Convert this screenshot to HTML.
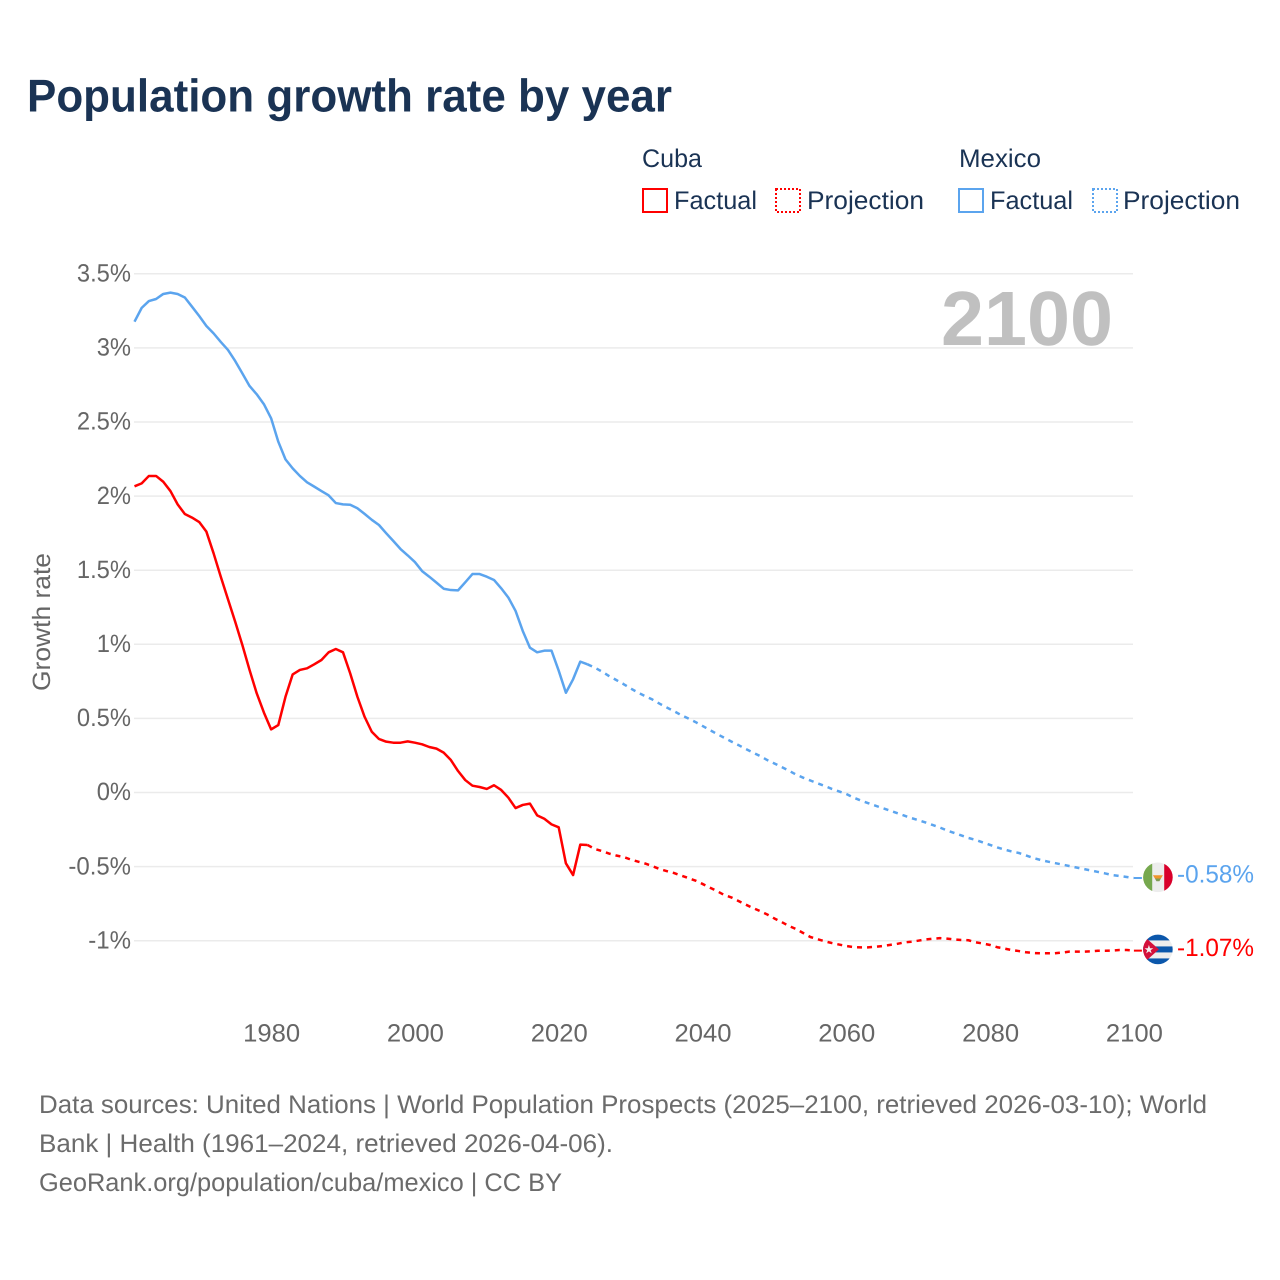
<!DOCTYPE html>
<html lang="en">
<head>
<meta charset="utf-8">
<title>Population growth rate by year</title>
<style>
html,body{margin:0;padding:0;background:#fff;}
svg{display:block;}
text{font-family:"Liberation Sans",sans-serif;text-rendering:geometricPrecision;}
</style>
</head>
<body>
<svg id="chart" xmlns="http://www.w3.org/2000/svg" width="1280" height="1280" viewBox="0 0 1280 1280">
  <rect x="0" y="0" width="1280" height="1280" fill="#fff"/>
  <text x="27" y="111.5" font-size="46" font-weight="700" fill="#1a3354" textLength="645" lengthAdjust="spacingAndGlyphs">Population growth rate by year</text>

  <g font-size="25.5" fill="#1a3354">
    <text x="642" y="167" textLength="60" lengthAdjust="spacingAndGlyphs">Cuba</text>
    <rect x="643" y="189" width="24" height="23" fill="none" stroke="#ff0000" stroke-width="2"/>
    <text x="674" y="209" textLength="83" lengthAdjust="spacingAndGlyphs">Factual</text>
    <rect x="776" y="189" width="24" height="23" fill="none" stroke="#ff0000" stroke-width="2" stroke-dasharray="2 2"/>
    <text x="807" y="209" textLength="117" lengthAdjust="spacingAndGlyphs">Projection</text>
    <text x="959" y="167" textLength="82" lengthAdjust="spacingAndGlyphs">Mexico</text>
    <rect x="959" y="189" width="24" height="23" fill="none" stroke="#5ba4ee" stroke-width="2"/>
    <text x="990" y="209" textLength="83" lengthAdjust="spacingAndGlyphs">Factual</text>
    <rect x="1093" y="189" width="24" height="23" fill="none" stroke="#5ba4ee" stroke-width="2" stroke-dasharray="2 2"/>
    <text x="1123" y="209" textLength="117" lengthAdjust="spacingAndGlyphs">Projection</text>
  </g>

  <g id="grid"></g>
  <g id="yticks"></g>
  <g id="xticks"></g>
  <text transform="translate(50,622) rotate(-90)" text-anchor="middle" font-size="25" fill="#666" textLength="138" lengthAdjust="spacingAndGlyphs">Growth rate</text>
  <text x="941" y="345" font-size="77" font-weight="700" fill="#c0c0c0" textLength="172" lengthAdjust="spacingAndGlyphs">2100</text>
  <g id="series"></g>

  <defs>
    <clipPath id="flag-clip"><circle cx="0" cy="0" r="14.8"/></clipPath>
  </defs>
  <g id="flag-mexico">
    <g clip-path="url(#flag-clip)">
      <rect x="-15" y="-15" width="30" height="30" fill="#ededed"/>
      <rect x="-15" y="-15" width="9.3" height="30" fill="#76a84e"/>
      <rect x="6.3" y="-15" width="9" height="30" fill="#d9002b"/>
      <path d="M-5-2H5L3 1.2H-3Z" fill="#f0952c"/>
      <path d="M-3 1.2H3L1.5 4H-1.5Z" fill="#7f9a55"/>
    </g>
  </g>
  <g id="flag-cuba">
    <g clip-path="url(#flag-clip)">
      <rect x="-15" y="-15" width="30" height="30" fill="#ededed"/>
      <rect x="-15" y="-15" width="30" height="6" fill="#0b57ab"/>
      <rect x="-15" y="-3" width="30" height="6" fill="#0b57ab"/>
      <rect x="-15" y="9" width="30" height="6" fill="#0b57ab"/>
      <path d="M-16-15L1 0L-16 15Z" fill="#d4103a"/>
      <path d="M-9-4.5L-7.9-1.2H-4.6L-7.3 0.8L-6.2 4L-9 2L-11.8 4L-10.7 0.8L-13.4-1.2H-10.1Z" fill="#f2f2f2"/>
    </g>
  </g>
  <g id="endlabels"></g>

  <g font-size="25.5" fill="#6b6b6b">
    <text x="39" y="1113" textLength="1168" lengthAdjust="spacingAndGlyphs">Data sources: United Nations | World Population Prospects (2025–2100, retrieved 2026-03-10); World</text>
    <text x="39" y="1152" textLength="574" lengthAdjust="spacingAndGlyphs">Bank | Health (1961–2024, retrieved 2026-04-06).</text>
    <text x="39" y="1191" textLength="523" lengthAdjust="spacingAndGlyphs">GeoRank.org/population/cuba/mexico | CC BY</text>
  </g>
</svg>
<script>
const yTickValues = [3.5, 3, 2.5, 2, 1.5, 1, 0.5, 0, -0.5, -1];
const yTickLabels = ['3.5%', '3%', '2.5%', '2%', '1.5%', '1%', '0.5%', '0%', '-0.5%', '-1%'];
const xTickYears = [1980, 2000, 2020, 2040, 2060, 2080, 2100];
const firstYear = 1961;
const projectionFirstYear = 2024;

const mexicoFactual = [3.177,3.27,3.316,3.33,3.364,3.373,3.364,3.34,3.278,3.215,3.148,3.098,3.04,2.986,2.912,2.828,2.743,2.687,2.62,2.525,2.367,2.248,2.187,2.136,2.093,2.064,2.034,2.005,1.953,1.944,1.942,1.918,1.88,1.84,1.805,1.75,1.697,1.643,1.6,1.555,1.494,1.456,1.416,1.375,1.366,1.364,1.418,1.474,1.474,1.456,1.434,1.378,1.315,1.225,1.09,0.977,0.946,0.957,0.957,0.822,0.673,0.764,0.883,0.865];
const mexicoProjection = [0.865,0.843,0.816,0.786,0.759,0.732,0.702,0.675,0.651,0.628,0.6,0.574,0.55,0.523,0.5,0.476,0.449,0.422,0.395,0.37,0.344,0.32,0.294,0.27,0.246,0.219,0.196,0.172,0.148,0.121,0.1,0.081,0.062,0.044,0.024,0.007,-0.01,-0.034,-0.054,-0.071,-0.088,-0.105,-0.121,-0.138,-0.155,-0.172,-0.186,-0.202,-0.219,-0.236,-0.256,-0.273,-0.29,-0.307,-0.32,-0.337,-0.354,-0.371,-0.385,-0.398,-0.408,-0.425,-0.442,-0.455,-0.466,-0.476,-0.486,-0.496,-0.506,-0.516,-0.526,-0.536,-0.546,-0.557,-0.563,-0.57,-0.577];
const cubaFactual = [2.066,2.086,2.136,2.136,2.097,2.034,1.944,1.879,1.855,1.825,1.76,1.614,1.456,1.304,1.153,0.995,0.827,0.669,0.539,0.426,0.455,0.646,0.797,0.827,0.838,0.865,0.894,0.946,0.968,0.946,0.804,0.646,0.511,0.41,0.361,0.343,0.336,0.336,0.345,0.336,0.325,0.307,0.296,0.269,0.219,0.145,0.084,0.046,0.037,0.024,0.049,0.017,-0.035,-0.105,-0.084,-0.075,-0.154,-0.177,-0.215,-0.235,-0.478,-0.557,-0.352,-0.354];
const cubaProjection = [-0.354,-0.381,-0.395,-0.412,-0.425,-0.435,-0.452,-0.466,-0.479,-0.496,-0.516,-0.53,-0.543,-0.56,-0.577,-0.594,-0.617,-0.641,-0.665,-0.691,-0.708,-0.732,-0.756,-0.779,-0.8,-0.823,-0.85,-0.874,-0.9,-0.921,-0.948,-0.975,-0.99,-1.004,-1.016,-1.026,-1.036,-1.043,-1.045,-1.045,-1.041,-1.036,-1.029,-1.022,-1.012,-1.007,-1,-0.992,-0.987,-0.983,-0.986,-0.992,-0.995,-0.997,-1.011,-1.019,-1.029,-1.044,-1.053,-1.063,-1.07,-1.078,-1.083,-1.085,-1.085,-1.085,-1.08,-1.074,-1.074,-1.074,-1.072,-1.068,-1.068,-1.066,-1.063,-1.063,-1.067];
const endLabelMexico = '-0.58%';
const endLabelCuba = '-1.07%';

const NS = 'http://www.w3.org/2000/svg';
const xScale = year => 134.5 + (year - 1961) * 7.19;
const yScale = value => 792.5 - value * 148.2;
const RED = '#ff0000';
const BLUE = '#5ba4ee';

function make(parent, tag, attrs, txt) {
  const el = document.createElementNS(NS, tag);
  for (const k in attrs) el.setAttribute(k, attrs[k]);
  if (txt !== undefined) el.textContent = txt;
  parent.appendChild(el);
  return el;
}
function labelWidth(s) {
  let w = 0;
  for (const c of s) w += c === '%' ? 20 : c === '.' ? 5.5 : c === '-' ? 8.5 : 14.3;
  return w;
}
function pathFrom(values, startYear) {
  return values.map((v, i) => (i ? 'L' : 'M') + xScale(startYear + i).toFixed(2) + ' ' + yScale(v).toFixed(2)).join('');
}

const grid = document.getElementById('grid');
const yticks = document.getElementById('yticks');
yTickValues.forEach((v, i) => {
  const line = make(grid, 'line', {x1: 134, x2: 1133, y1: yScale(v), y2: yScale(v), stroke: '#ebebeb', 'stroke-width': 1.5});
  
  
  const t = make(yticks, 'text', {x: 131, y: yScale(v) + 7.7, 'text-anchor': 'end', 'font-size': 25, fill: '#666', textLength: labelWidth(yTickLabels[i]), lengthAdjust: 'spacingAndGlyphs'}, yTickLabels[i]);
  
  
});

const xticks = document.getElementById('xticks');
xTickYears.forEach(year => {
  const t = make(xticks, 'text', {x: xScale(year) + 0.5, y: 1041.5, 'text-anchor': 'middle', 'font-size': 25, fill: '#666', textLength: 57, lengthAdjust: 'spacingAndGlyphs'}, String(year));
  
  
});

const series = document.getElementById('series');
const base = {fill: 'none', 'stroke-width': 2.5, 'stroke-linejoin': 'round'};

const mexProj = make(series, 'path', Object.assign({d: pathFrom(mexicoProjection, projectionFirstYear), stroke: BLUE, 'stroke-dasharray': '5 5'}, base));



const cubProj = make(series, 'path', Object.assign({d: pathFrom(cubaProjection, projectionFirstYear), stroke: RED, 'stroke-dasharray': '5 5'}, base));



const mexFact = make(series, 'path', Object.assign({d: pathFrom(mexicoFactual, firstYear), stroke: BLUE}, base));



const cubFact = make(series, 'path', Object.assign({d: pathFrom(cubaFactual, firstYear), stroke: RED}, base));



const mexLast = mexicoProjection[mexicoProjection.length - 1];
const cubLast = cubaProjection[cubaProjection.length - 1];
const xEnd = xScale(2100);

const mexLeader = make(series, 'line', {x1: xEnd, x2: xEnd + 8, y1: yScale(mexLast), y2: yScale(mexLast), stroke: BLUE, 'stroke-width': 2});



const cubLeader = make(series, 'line', {x1: xEnd, x2: xEnd + 8, y1: yScale(cubLast), y2: yScale(cubLast), stroke: RED, 'stroke-width': 2});



document.getElementById('flag-mexico').setAttribute('transform', 'translate(' + (xEnd + 24) + ',' + (yScale(mexLast) - 0.7) + ')');
document.getElementById('flag-cuba').setAttribute('transform', 'translate(' + (xEnd + 24) + ',' + (yScale(cubLast) - 1.2) + ')');

const endlabels = document.getElementById('endlabels');
const mexLabel = make(endlabels, 'text', {x: 1177, y: yScale(mexLast) + 4.5, 'font-size': 25, fill: BLUE, textLength: 77, lengthAdjust: 'spacingAndGlyphs'}, endLabelMexico);



const cubLabel = make(endlabels, 'text', {x: 1177, y: yScale(cubLast) + 5.5, 'font-size': 25, fill: RED, textLength: 77, lengthAdjust: 'spacingAndGlyphs'}, endLabelCuba);


</script>
</body>
</html>
